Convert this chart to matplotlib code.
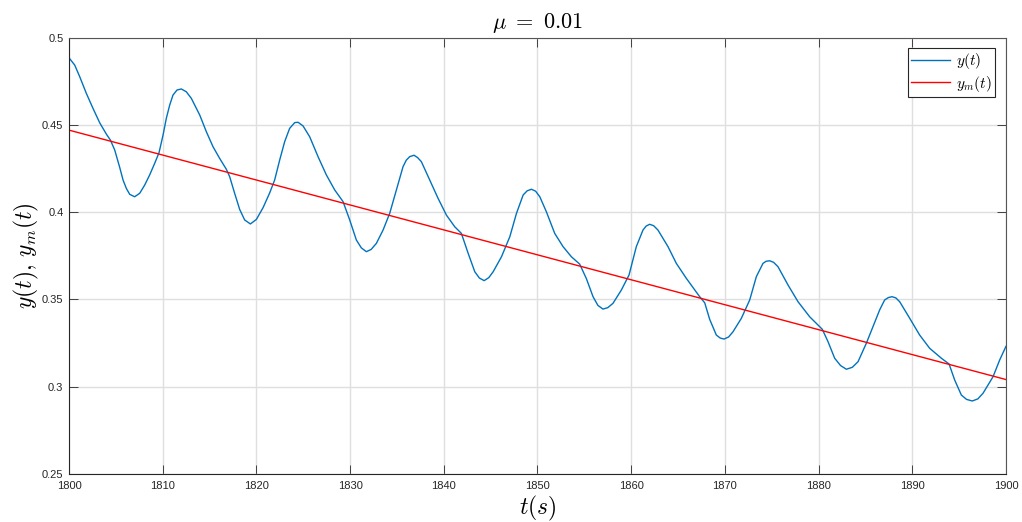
import numpy as np
import matplotlib
matplotlib.use('Agg')
import matplotlib.pyplot as plt

plt.rcParams['mathtext.fontset'] = 'cm'
plt.rcParams['font.family'] = ['Liberation Sans', 'DejaVu Sans']

# y(t): values (time offset from 1800 s)
t_off = [0.00, 0.61, 1.14, 1.85, 2.56, 3.28, 3.99, 4.42, 4.88, 5.41, 5.77, 6.12,
         6.48, 7.01, 7.55, 8.08, 8.61, 9.15, 9.61, 10.04, 10.39, 10.75, 11.10,
         11.53, 11.99, 12.52, 13.06, 13.59, 13.95, 14.66, 15.37, 16.08, 16.79,
         17.15, 17.68, 18.22, 18.75, 19.36, 20.00, 20.71, 21.42, 21.95, 22.49,
         23.02, 23.55, 24.09, 24.45, 24.98, 25.69, 26.58, 27.47, 28.36, 29.25,
         29.96, 30.67, 31.20, 31.74, 32.25, 32.81, 33.52, 34.23, 34.94, 35.65,
         36.00, 36.37, 36.82, 37.20, 37.61, 38.50, 39.39, 40.28, 41.17, 41.88,
         42.60, 43.31, 43.80, 44.31, 44.80, 45.27, 46.16, 47.05, 47.76, 48.47,
         48.90, 49.36, 49.80, 50.25, 50.95, 51.84, 52.73, 53.62, 54.50, 55.21,
         55.93, 56.45, 56.99, 57.50, 58.06, 58.95, 59.77, 60.55, 61.26, 61.60,
         61.97, 62.40, 62.86, 63.93, 64.82, 65.89, 67.31, 67.85, 68.38, 69.09,
         69.50, 69.91, 70.40, 70.87, 71.76, 72.65, 73.36, 74.07, 74.40, 74.78,
         75.20, 75.67, 76.74, 77.81, 79.05, 80.40, 81.01, 81.72, 82.35, 82.97,
         83.60, 84.21, 85.10, 85.81, 86.52, 87.05, 87.45, 87.84, 88.25, 88.66,
         89.73, 90.79, 91.86, 93.11, 93.93, 94.53, 95.24, 95.80, 96.41, 97.00,
         97.55, 98.62, 99.33, 100.00]
y_vals = [0.4885, 0.4843, 0.4777, 0.4681, 0.4595, 0.4512, 0.4447, 0.4413, 0.4356,
          0.4257, 0.4184, 0.4136, 0.4102, 0.4088, 0.4108, 0.4155, 0.4213, 0.4280,
          0.4341, 0.4442, 0.4538, 0.4614, 0.4671, 0.4700, 0.4706, 0.4690, 0.4652,
          0.4595, 0.4557, 0.4461, 0.4375, 0.4308, 0.4246,
          0.4203, 0.4108, 0.4015, 0.3955, 0.3932, 0.3958, 0.4025, 0.4110, 0.4184,
          0.4299, 0.4404, 0.4480, 0.4513, 0.4515, 0.4494, 0.4432, 0.4318, 0.4213,
          0.4127, 0.4060, 0.3955, 0.3840, 0.3795, 0.3773, 0.3786, 0.3821, 0.3897,
          0.3993, 0.4127, 0.4260, 0.4298, 0.4318, 0.4326, 0.4313, 0.4289, 0.4184,
          0.4079, 0.3983, 0.3916, 0.3878, 0.3764, 0.3658, 0.3622, 0.3607, 0.3624,
          0.3658, 0.3744, 0.3859, 0.3993, 0.4098, 0.4122, 0.4131, 0.4120, 0.4088,
          0.4002, 0.3878, 0.3802, 0.3744, 0.3702, 0.3620, 0.3515, 0.3465, 0.3444,
          0.3452, 0.3477, 0.3553, 0.3639, 0.3802, 0.3897, 0.3920, 0.3930, 0.3922,
          0.3897, 0.3802, 0.3706, 0.3620, 0.3515, 0.3480, 0.3385, 0.3295, 0.3278,
          0.3272, 0.3284, 0.3314, 0.3391, 0.3496, 0.3630, 0.3706, 0.3718, 0.3721,
          0.3712, 0.3687, 0.3582, 0.3486, 0.3400, 0.3328, 0.3257, 0.3162, 0.3120,
          0.3099, 0.3110, 0.3142, 0.3248, 0.3343, 0.3439, 0.3496, 0.3510, 0.3515,
          0.3508, 0.3486, 0.3391, 0.3295, 0.3219, 0.3162, 0.3129, 0.3037, 0.2951,
          0.2926, 0.2917, 0.2929, 0.2961, 0.3056, 0.3152, 0.3230]

# y_m(t): straight trend line, end points
tm = [1800, 1900]
ym_vals = [0.447, 0.304]

t = 1800 + np.array(t_off)

fig = plt.figure(figsize=(10.22, 5.22), dpi=100, facecolor='white')
ax = fig.add_axes([0.0675, 0.0925, 0.9168, 0.8353])

ax.plot(t, y_vals, color='#0072BD', lw=1.0, label=r'$y(t)$')
ax.plot(tm, ym_vals, color='#FF0000', lw=1.0, label=r'$y_m(t)$')

ax.set_xlim(1800, 1900)
ax.set_ylim(0.25, 0.5)
ax.set_xticks(np.arange(1800, 1901, 10))
ax.set_yticks([0.25, 0.3, 0.35, 0.4, 0.45, 0.5])
ax.set_yticklabels(['0.25', '0.3', '0.35', '0.4', '0.45', '0.5'])

ax.grid(True, color='#dfdfdf', lw=1.0)
ax.set_axisbelow(True)
ax.tick_params(direction='in', length=6.7, width=0.6, top=True, right=True,
               colors='#262626', labelsize=8)
ax.tick_params(axis='x', pad=5)
ax.tick_params(axis='y', pad=4)
for s in ['left', 'bottom']:
    ax.spines[s].set_color('#262626')
    ax.spines[s].set_linewidth(0.8)
for s in ['top', 'right']:
    ax.spines[s].set_color('#555555')
    ax.spines[s].set_linewidth(0.8)

ax.set_title(r'$\mu\ =\ 0.01$', fontsize=16, pad=7)
ax.set_xlabel(r'$t(s)$', fontsize=17, labelpad=2)
ax.set_ylabel(r'$y(t),\, y_m(t)$', fontsize=17, labelpad=0.5)

leg = ax.legend(loc='upper right', fontsize=11, handlelength=2.6,
                borderaxespad=0.7, fancybox=False, framealpha=1,
                edgecolor='#262626', borderpad=0.2, labelspacing=0.15,
                handletextpad=0.4)
leg.get_frame().set_linewidth(0.8)

fig.savefig('out.png', dpi=100)
